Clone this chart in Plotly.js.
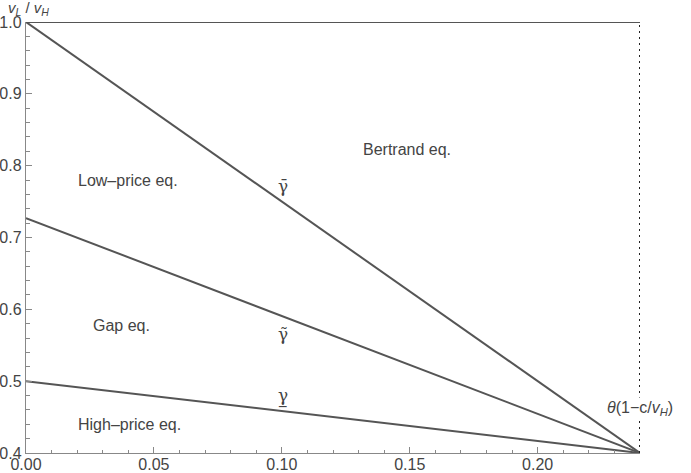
<!DOCTYPE html>
<html>
<head>
<meta charset="utf-8">
<script src="https://cdn.plot.ly/plotly-3.0.1.min.js"></script>
<style>html,body{margin:0;padding:0;background:#fff;}#chart{width:691px;height:473px;}</style>
</head>
<body>
<div id="chart"></div>
<script>
// Data
var sEnd = 0.24;                 // theta(1 - c/vH)
var vEnd = 0.4;                  // common end value
var lineStarts = [1.0, 0.727, 0.5];   // gamma-bar, gamma-tilde, gamma-underbar at s=0
var topLevel = 1.0;
var regionLabels = ["Bertrand eq.", "Low\u2013price eq.", "Gap eq.", "High\u2013price eq."];
var regionX = [0.1488, 0.0398, 0.0375, 0.0406];
var regionY = [0.822, 0.779, 0.578, 0.439];
var gammaLabels = ["\u03B3\u0304", "\u03B3\u0303", "\u03B3"];
var gammaX = [0.1004, 0.1004, 0.1004];
var gammaY = [0.772, 0.565, 0.481];

var lineColor = "#555555";
var traces = [];
traces.push({x:[0, sEnd], y:[topLevel, topLevel], mode:"lines", line:{color:lineColor, width:2}, cliponaxis:false, hoverinfo:"skip"});
lineStarts.forEach(function(v){
  traces.push({x:[0, sEnd], y:[v, vEnd], mode:"lines", line:{color:lineColor, width:2}, cliponaxis:false, hoverinfo:"skip"});
});
traces.push({x:[sEnd, sEnd], y:[vEnd, topLevel], mode:"lines", line:{color:"#222", width:2, dash:"2px,4px"}, cliponaxis:false, hoverinfo:"skip"});

var fam = "Liberation Sans, Arial, sans-serif";
var txtFont = {family:fam, size:16, color:"#444"};
var ann = [];
regionLabels.forEach(function(t,i){
  ann.push({x:regionX[i], y:regionY[i], xref:"x", yref:"y", text:t, showarrow:false, font:txtFont});
});
gammaLabels.forEach(function(t,i){
  ann.push({x:gammaX[i], y:gammaY[i], xref:"x", yref:"y", text:t, showarrow:false, font:{family:"DejaVu Serif, serif", size:17, color:"#444"}});
});
// underline mark for the lower gamma
ann.push({x:gammaX[2], y:gammaY[2], xref:"x", yref:"y", text:"_", showarrow:false, yshift:-4, font:{family:"DejaVu Sans, sans-serif", size:15, color:"#444"}});
ann.push({x:sEnd, y:0.462, xref:"x", yref:"y", text:"<i>\u03B8</i>(1\u2212c/<i>v</i><sub><i>H</i></sub>)", showarrow:false, bgcolor:"#fff", font:{family:fam, size:16, color:"#444"}});
ann.push({x:0.2435, y:0.4, xref:"x", yref:"y", xanchor:"left", yanchor:"middle", text:"s / <i>v</i><sub><i>H</i></sub>", showarrow:false, font:{family:fam, size:16, color:"#444"}});
ann.push({x:0, y:1.0, xref:"paper", yref:"y", xanchor:"center", yanchor:"bottom", xshift:2, yshift:2, text:"<i>v</i><sub><i>L</i></sub> / <i>v</i><sub><i>H</i></sub>", showarrow:false, font:{family:fam, size:15, color:"#444"}});

var tickFont = {family:fam, size:16, color:"#444"};
var layout = {
  width:691, height:473,
  margin:{l:26, r:51, t:22, b:20},
  paper_bgcolor:"#fff", plot_bgcolor:"#fff",
  showlegend:false,
  xaxis:{range:[0, sEnd], showgrid:false, zeroline:false, showline:true, linecolor:"#888", linewidth:1.2,
         ticks:"inside", ticklen:6, tickcolor:"#888", tickwidth:1, dtick:0.05, tick0:0, tickformat:".2f",
         tickfont:tickFont, ticklabelstandoff:-3,
         minor:{ticks:"inside", ticklen:3.5, dtick:0.01, tickcolor:"#888", showgrid:false}},
  yaxis:{range:[0.4, 1.0], showgrid:false, zeroline:false, showline:true, linecolor:"#888", linewidth:1.2,
         ticks:"inside", ticklen:6, tickcolor:"#888", tickwidth:1, dtick:0.1, tick0:0.4, tickformat:".1f",
         tickfont:tickFont, ticklabelstandoff:0,
         minor:{ticks:"inside", ticklen:3.5, dtick:0.02, tickcolor:"#888", showgrid:false}},
  annotations:ann
};
Plotly.newPlot("chart", traces, layout, {displayModeBar:false, staticPlot:true});
</script>
</body>
</html>
